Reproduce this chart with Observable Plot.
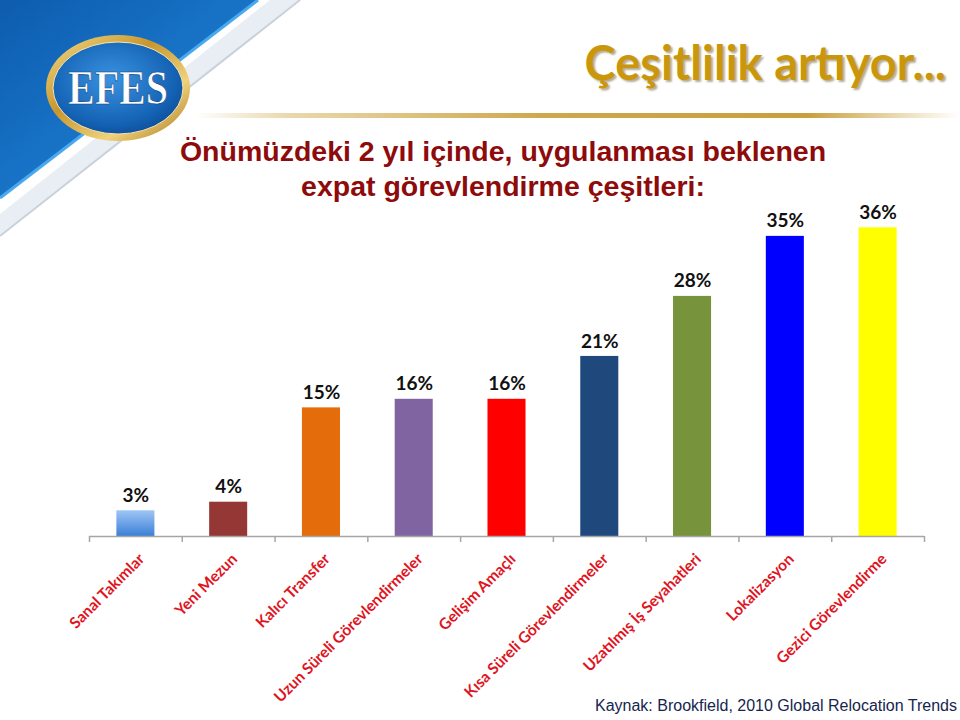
<!DOCTYPE html>
<html>
<head>
<meta charset="utf-8">
<script src="https://cdn.jsdelivr.net/npm/d3@7"></script>
<script src="https://cdn.jsdelivr.net/npm/@observablehq/plot@0.6"></script>
<style>
  html, body { margin: 0; padding: 0; background: #fff; }
  #page { position: relative; width: 960px; height: 720px; overflow: hidden; background: #fff; }
  #deco { position: absolute; left: 0; top: 0; }
  #chart { position: absolute; left: 0; top: 0; }
  .title { position: absolute; right: 14px; top: 34px; font-family: Lato, sans-serif; font-weight: 700;
           font-size: 47px; color: #c9960c; text-shadow: 2px 2px 2px rgba(90,70,20,0.45); white-space: nowrap; }
  .goldline { position: absolute; left: 195px; top: 113px; width: 765px; height: 5px;
           background: linear-gradient(to right, rgba(230,210,160,0) 0%, rgba(225,200,140,0.7) 12%, #cfa84e 45%, #c99e3e 80%, rgba(235,220,180,0.6) 95%, rgba(255,255,255,0) 100%); }
  .sub { position: absolute; left: 153px; width: 700px; text-align: center;
         font-family: "Liberation Sans", Arial, sans-serif; font-weight: 700; font-size: 28.5px;
         color: #8e0b0b; white-space: nowrap; }
  .source { position: absolute; right: 3px; top: 697px; font-family: "Liberation Sans", Arial, sans-serif;
         font-size: 16px; color: #15264d; white-space: nowrap; }
</style>
</head>
<body>
<div id="page">
  <svg id="deco" width="960" height="260" viewBox="0 0 960 260">
    <defs>
      <linearGradient id="bandGrad" x1="0" y1="0" x2="1" y2="1">
        <stop offset="0" stop-color="#0d5cae"/>
        <stop offset="0.6" stop-color="#1a78cc"/>
        <stop offset="1" stop-color="#2a8fe0"/>
      </linearGradient>
      <linearGradient id="ringGrad" x1="0" y1="0" x2="1" y2="1">
        <stop offset="0" stop-color="#f3dc8a"/>
        <stop offset="0.4" stop-color="#c8962e"/>
        <stop offset="0.7" stop-color="#f0d27a"/>
        <stop offset="1" stop-color="#a8741c"/>
      </linearGradient>
      <radialGradient id="ovalGrad" cx="0.45" cy="0.4" r="0.7">
        <stop offset="0" stop-color="#3a93e0"/>
        <stop offset="0.7" stop-color="#1462b4"/>
        <stop offset="1" stop-color="#0b468e"/>
      </radialGradient>
    </defs>
    <polygon points="0,0 300,0 0,236" fill="#e9eef4"/>
    <polygon points="0,0 270,0 0,214" fill="#ffffff"/>
    <polygon points="0,0 258,0 0,198" fill="url(#bandGrad)"/>
    <line x1="258" y1="0" x2="0" y2="198" stroke="#49a8ee" stroke-width="3"/>
    <line x1="300" y1="0" x2="0" y2="236" stroke="#c9d2dc" stroke-width="2"/>
    <ellipse cx="118" cy="88" rx="72" ry="53" fill="url(#ringGrad)"/>
    <ellipse cx="118" cy="88" rx="65" ry="46" fill="url(#ovalGrad)" stroke="#f6e6b0" stroke-width="1"/>
    <text x="68" y="104" textLength="100" lengthAdjust="spacingAndGlyphs"
          font-family="Liberation Serif, DejaVu Serif, serif" font-weight="700" font-size="48"
          fill="#ffffff" stroke="#0a3f80" stroke-width="0.6">EFES</text>
  </svg>
  <div class="goldline"></div>
  <div class="title">Çeşitlilik artıyor...</div>
  <div class="sub" style="top:135px;">Önümüzdeki 2 yıl içinde, uygulanması beklenen</div>
  <div class="sub" style="top:170px;">expat görevlendirme çeşitleri:</div>
  <div id="chart"></div>
  <div class="source">Kaynak: Brookfield, 2010 Global Relocation Trends</div>
</div>
<script>
const categories = [
  "Sanal Takımlar", "Yeni Mezun", "Kalıcı Transfer", "Uzun Süreli Görevlendirmeler",
  "Gelişim Amaçlı", "Kısa Süreli Görevlendirmeler", "Uzatılmış İş Seyahatleri",
  "Lokalizasyon", "Gezici Görevlendirme"
];
const values = [3, 4, 15, 16, 16, 21, 28, 35, 36];
const colors = ["url(#gradSanal)", "#953735", "#e46c0a", "#8064a2", "#ff0000",
                "#1f497d", "#77933c", "#0000ff", "#ffff00"];

const data = categories.map((c, i) => ({category: c, value: values[i], color: colors[i]}));

const W = 960, H = 720, mL = 89, mR = 36, mT = 193, mB = 184;
const step = (W - mL - mR) / categories.length;

const chart = Plot.plot({
  width: W, height: H,
  marginLeft: mL, marginRight: mR, marginTop: mT, marginBottom: mB,
  style: {background: "transparent", overflow: "visible"},
  x: {domain: categories, paddingInner: 0.59, paddingOuter: 0.295, round: false, axis: null},
  y: {domain: [0, 40], axis: null},
  color: {type: "identity"},
  marks: [
    Plot.barY(data, {x: "category", y: "value", fill: "color"}),
    Plot.ruleY([0], {stroke: "#a6a6a6", strokeWidth: 1.5}),
    Plot.ruleX(categories, {x: d => d, y1: 0, y2: -0.7, dx: -step / 2, stroke: "#a6a6a6", strokeWidth: 1.5}),
    Plot.ruleX([categories[categories.length - 1]], {x: d => d, y1: 0, y2: -0.7, dx: step / 2, stroke: "#a6a6a6", strokeWidth: 1.5}),
    Plot.text(data, {x: "category", y: "value", text: d => d.value + "%", dy: -15,
      fontFamily: "Lato, sans-serif", fontWeight: 700, fontSize: 19, fill: "#111"}),
    Plot.text(data, {x: "category", y: 0, text: "category", rotate: -45, textAnchor: "end",
      dx: 6, dy: 20, fontFamily: "Lato, sans-serif", fontWeight: 700, fontSize: 15.5, fill: "#e0141e"})
  ]
});

const svg = d3.select(chart);
const defs = svg.insert("defs", ":first-child");
const g = defs.append("linearGradient").attr("id", "gradSanal")
  .attr("x1", 0).attr("y1", 0).attr("x2", 0).attr("y2", 1);
g.append("stop").attr("offset", 0).attr("stop-color", "#9fc6f6");
g.append("stop").attr("offset", 1).attr("stop-color", "#3b7fd6");

document.getElementById("chart").appendChild(chart);
</script>
</body>
</html>
